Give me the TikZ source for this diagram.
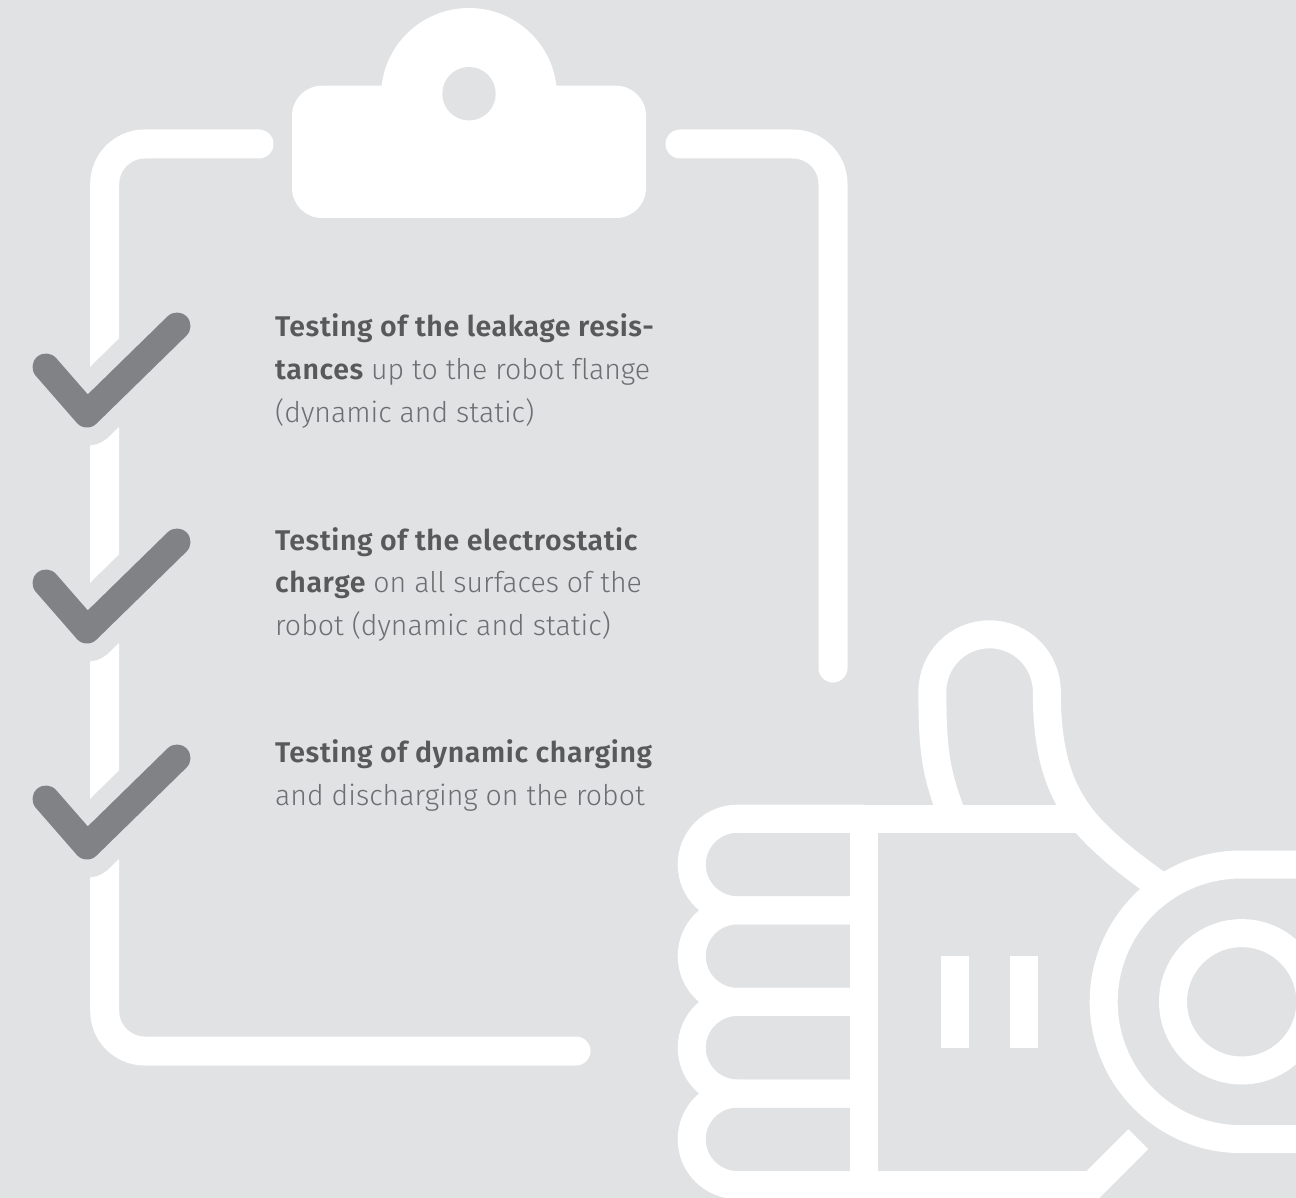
\documentclass[tikz,border=0pt]{standalone}
\usepackage{fontspec}
\setmainfont{Fira Sans Light}[BoldFont={Fira Sans SemiBold},BoldFeatures={LetterSpace=2.1},Ligatures=NoCommon]
\definecolor{bgc}{HTML}{E1E2E4}
\definecolor{chk}{HTML}{808285}
\definecolor{boldc}{HTML}{58595B}
\definecolor{thinc}{HTML}{6D6E71}
\tikzset{
  band/.style={draw=white,line width=29pt,line cap=round,line join=round},
  hand/.style={draw=white,line width=28pt,line cap=butt,line join=miter},
  label/.style={text=thinc,align=left,anchor=base west,inner sep=0pt,font=\fontsize{28.5}{42.7}\selectfont},
}
\newcommand{\tb}[1]{\textbf{\textcolor{boldc}{#1}}}
\newcommand{\checkmk}[1]{%
  \draw[draw=bgc,line width=63pt,line cap=round,line join=round] (46,367+#1) -- (87,414+#1) -- (177,326+#1);
  \draw[draw=chk,line width=27pt,line cap=round,line join=round] (46,367+#1) -- (87,414+#1) -- (177,326+#1);
}
\begin{document}
\begin{tikzpicture}[x=1pt,y=-1pt]
\useasboundingbox (0,0) rectangle (1296,1198);
\clip (0,0) rectangle (1296,1198);
\fill[bgc] (0,0) rectangle (1296,1198);
% clipboard outline
\draw[band,rounded corners=40pt] (259,144) -- (104.7,144) -- (104.7,1051) -- (576,1051);
\draw[band,rounded corners=40pt] (680,144) -- (833,144) -- (833,668);
% clip
\fill[white] (469,96) circle[radius=88];
\fill[white,rounded corners=30pt] (292,85.7) rectangle (646,218);
\fill[bgc] (469,93.7) circle[radius=26.7];
% checks
\checkmk{0}
\checkmk{216}
\checkmk{432}
% texts
\node[label] (t1) at (275,422.2) {\tb{Testing of the leakage resis-}\\\tb{tances} up to the robot flange\\(dynamic and static)};
\node[label] (t2) at (275,635.5) {\tb{Testing of the electrostatic}\\\tb{charge} on all surfaces of the\\robot (dynamic and static)};
\node[label] (t3) at (275,805.5) {\tb{Testing of dynamic charging}\\and discharging on the robot};
% fingers
\foreach \c in {818.7,910.3,1001.9,1093.5}{
  \draw[hand] (864,\c) -- (737.5,\c) arc[start angle=-90,end angle=-270,radius=45.8] -- (864,\c+91.6);
}
% palm
\draw[hand] (864,804.7) -- (864,1198);
\draw[hand] (737.5,818.7) -- (1085,818.7);
\draw[hand] (737.5,1185) -- (1092.5,1185) -- (1138.3,1139.2);
% thumb
\draw[hand] (950,810) .. controls (935,770) and (932.4,745) .. (932.4,691.5)
  arc[start angle=180,end angle=360,radius=57.2]
  .. controls (1046.8,760) and (1062,800) .. (1096,834)
  .. controls (1114,852) and (1132,866) .. (1160,886);
% cuff
\draw[hand] (1300,864.5) -- (1241,864.5) arc[start angle=-90,end angle=-270,radius=137.3] -- (1300,1139);
\draw[white,line width=28pt] (1241.7,1001.8) circle[radius=68.7];
% bars
\fill[white] (940.7,955.5) rectangle (969,1048);
\fill[white] (1009.7,955.5) rectangle (1038,1048);
\end{tikzpicture}
\end{document}
